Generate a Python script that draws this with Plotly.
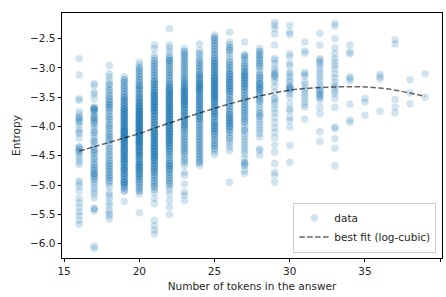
import plotly.graph_objects as go

# ---- data: (entropy value, number of stacked points) per answer length ----
e16 = [(-2.84,1),(-3.12,1),(-3.52,1),(-3.55,1),(-3.75,1),(-3.80,1),(-3.85,2),(-3.88,1),(-3.92,2),(-3.98,1),
       (-4.05,1),(-4.10,1),(-4.12,1),(-4.20,1),(-4.35,2),(-4.38,1),(-4.42,2),(-4.45,1),(-4.50,1),(-4.55,1),
       (-4.60,1),(-4.65,1),(-4.92,1),(-4.97,1),(-5.02,1),(-5.10,1),(-5.23,1),(-5.30,1),(-5.38,1),(-5.46,1),
       (-5.52,1),(-5.60,1),(-5.67,1)]
e17 = [(-3.27,1),(-3.30,1),(-3.42,1),(-3.45,1),(-3.53,1),(-3.67,2),(-3.70,3),(-3.73,2),(-3.77,1),(-3.82,2),
       (-3.86,2),(-3.90,2),(-3.95,2),(-4.00,1),(-4.05,1),(-4.10,2),(-4.15,1),(-4.20,1),(-4.25,2),(-4.30,1),
       (-4.35,1),(-4.40,2),(-4.45,2),(-4.50,1),(-4.55,2),(-4.60,1),(-4.65,2),(-4.70,2),(-4.75,2),(-4.80,3),
       (-4.85,2),(-4.90,2),(-4.95,1),(-5.00,1),(-5.05,1),(-5.10,1),(-5.15,1),(-5.22,1),(-5.40,2),(-5.44,1),
       (-6.04,1),(-6.08,1)]
e18 = [(-2.96,1),(-3.10,1),(-3.15,1),(-3.22,1),(-3.28,2),(-3.33,1),(-3.38,2),(-3.43,1),(-3.48,2),(-3.53,2),
       (-3.58,2),(-3.63,3),(-3.68,2),(-3.73,2),(-3.78,1),(-3.83,2),(-3.88,2),(-3.93,1),(-3.98,2),(-4.03,2),
       (-4.08,1),(-4.13,2),(-4.18,2),(-4.23,2),(-4.28,1),(-4.33,1),(-4.38,2),(-4.43,1),(-4.48,2),(-4.53,1),
       (-4.58,2),(-4.63,2),(-4.68,2),(-4.73,2),(-4.78,2),(-4.83,2),(-4.88,2),(-4.93,2),(-4.98,1),(-5.03,1),
       (-5.12,1),(-5.17,1),(-5.22,1),(-5.30,1),(-5.35,1),(-5.43,1),(-5.48,1),(-5.52,1),(-5.58,1)]
e19 = [(-3.15,1),(-3.20,2),(-3.25,2),(-3.30,2),(-3.35,2),(-3.40,2),(-3.45,2),(-3.50,3),(-3.55,3),(-3.60,3),
       (-3.65,3),(-3.70,4),(-3.75,4),(-3.80,4),(-3.85,4),(-3.90,4),(-3.95,4),(-4.00,4),(-4.05,5),(-4.10,5),
       (-4.15,5),(-4.20,5),(-4.25,4),(-4.30,4),(-4.35,4),(-4.40,4),(-4.45,4),(-4.50,4),(-4.55,4),(-4.60,4),
       (-4.65,3),(-4.70,4),(-4.75,4),(-4.80,3),(-4.85,3),(-4.90,3),(-4.95,4),(-5.00,3),(-5.05,2),(-5.10,2),
       (-5.28,1)]
e20 = [(-2.90,1),(-2.95,1),(-3.00,2),(-3.05,2),(-3.10,2),(-3.15,2),(-3.20,2),(-3.25,2),(-3.30,3),(-3.35,3),
       (-3.40,2),(-3.45,3),(-3.50,3),(-3.55,3),(-3.60,4),(-3.65,4),(-3.70,4),(-3.75,5),(-3.80,5),(-3.85,5),
       (-3.90,5),(-3.95,5),(-4.00,5),(-4.05,5),(-4.10,5),(-4.15,5),(-4.20,5),(-4.25,5),(-4.30,5),(-4.35,4),
       (-4.40,4),(-4.45,4),(-4.50,4),(-4.55,3),(-4.60,3),(-4.65,4),(-4.70,4),(-4.75,4),(-4.80,3),(-4.85,3),
       (-4.90,3),(-4.95,2),(-5.00,2),(-5.05,2),(-5.10,2),(-5.15,1),(-5.47,1)]
e21 = [(-2.61,1),(-2.67,1),(-2.78,1),(-2.83,1),(-2.88,2),(-2.93,2),(-2.98,2),(-3.03,2),(-3.08,2),(-3.13,2),
       (-3.18,2),(-3.23,3),(-3.28,3),(-3.33,3),(-3.38,3),(-3.43,4),(-3.48,4),(-3.53,4),(-3.58,4),(-3.63,4),
       (-3.68,4),(-3.73,4),(-3.78,3),(-3.83,3),(-3.88,3),(-3.93,3),(-3.98,3),(-4.03,3),(-4.08,4),(-4.13,4),
       (-4.18,4),(-4.23,4),(-4.28,4),(-4.33,4),(-4.38,4),(-4.43,4),(-4.48,4),(-4.53,4),(-4.58,3),(-4.63,3),
       (-4.68,3),(-4.73,3),(-4.78,3),(-4.83,2),(-4.88,2),(-4.93,2),(-4.98,2),(-5.03,2),(-5.08,1),(-5.12,1),
       (-5.23,1),(-5.32,1),(-5.60,1),(-5.69,1),(-5.77,1),(-5.83,1)]
e22 = [(-2.33,1),(-2.61,1),(-2.66,1),(-2.72,1),(-2.78,1),(-2.83,2),(-2.88,3),(-2.93,2),(-2.98,2),(-3.03,2),
       (-3.08,2),(-3.13,2),(-3.18,2),(-3.23,2),(-3.28,3),(-3.33,3),(-3.38,4),(-3.43,4),(-3.48,4),(-3.53,4),
       (-3.58,4),(-3.63,4),(-3.68,4),(-3.73,4),(-3.78,4),(-3.83,4),(-3.88,4),(-3.93,4),(-3.98,4),(-4.03,4),
       (-4.08,4),(-4.13,4),(-4.18,4),(-4.23,4),(-4.28,4),(-4.33,3),(-4.38,3),(-4.43,3),(-4.48,2),(-4.53,2),
       (-4.58,2),(-4.63,3),(-4.68,3),(-4.73,3),(-4.78,2),(-4.83,2),(-4.88,2),(-4.93,2),(-4.98,2),(-5.03,1),
       (-5.08,1),(-5.15,1),(-5.26,1),(-5.37,1),(-5.50,1)]
e23 = [(-2.67,1),(-2.72,2),(-2.77,2),(-2.82,2),(-2.87,2),(-2.92,2),(-2.97,2),(-3.02,2),(-3.07,2),(-3.12,2),
       (-3.17,2),(-3.22,3),(-3.27,3),(-3.32,3),(-3.37,4),(-3.42,4),(-3.47,4),(-3.52,4),(-3.57,4),(-3.62,4),
       (-3.67,3),(-3.72,3),(-3.77,3),(-3.82,3),(-3.87,3),(-3.92,3),(-3.97,3),(-4.02,3),(-4.07,2),(-4.12,2),
       (-4.17,2),(-4.22,2),(-4.27,2),(-4.32,2),(-4.37,2),(-4.42,2),(-4.47,2),(-4.52,1),(-4.57,2),(-4.62,1),
       (-4.66,1),(-4.78,1),(-4.83,1),(-4.98,1),(-5.12,1),(-5.17,1),(-5.26,1)]
e24 = [(-2.59,1),(-2.70,1),(-2.76,2),(-2.82,1),(-2.87,2),(-2.92,2),(-2.97,2),(-3.02,2),(-3.07,2),(-3.12,3),
       (-3.17,3),(-3.22,3),(-3.27,4),(-3.32,4),(-3.37,4),(-3.42,3),(-3.47,3),(-3.52,3),(-3.57,3),(-3.62,3),
       (-3.67,3),(-3.72,3),(-3.77,3),(-3.82,3),(-3.87,3),(-3.92,2),(-3.97,2),(-4.02,2),(-4.07,2),(-4.12,2),
       (-4.17,2),(-4.22,2),(-4.27,2),(-4.32,2),(-4.37,2),(-4.42,2),(-4.47,2),(-4.52,2),(-4.57,2),(-4.62,2),
       (-4.67,1)]
e25 = [(-2.44,1),(-2.48,2),(-2.53,2),(-2.58,2),(-2.63,2),(-2.68,2),(-2.73,2),(-2.78,2),(-2.83,2),(-2.88,3),
       (-2.93,3),(-2.98,3),(-3.03,3),(-3.08,3),(-3.13,3),(-3.18,4),(-3.23,4),(-3.28,4),(-3.33,4),(-3.38,4),
       (-3.43,4),(-3.48,4),(-3.53,4),(-3.58,3),(-3.63,3),(-3.68,3),(-3.73,3),(-3.78,3),(-3.83,3),(-3.88,2),
       (-3.93,3),(-3.98,3),(-4.03,3),(-4.08,3),(-4.13,2),(-4.18,2),(-4.23,2),(-4.28,2),(-4.33,2),(-4.38,2),
       (-4.43,1),(-4.48,1)]
e26 = [(-2.39,1),(-2.56,1),(-2.60,1),(-2.65,2),(-2.70,2),(-2.75,1),(-2.80,1),(-2.85,1),(-2.90,2),(-2.95,2),
       (-3.00,2),(-3.05,2),(-3.10,3),(-3.15,3),(-3.20,3),(-3.25,3),(-3.30,3),(-3.35,3),(-3.40,3),(-3.45,2),
       (-3.50,2),(-3.55,2),(-3.60,2),(-3.65,2),(-3.70,2),(-3.75,2),(-3.80,3),(-3.85,3),(-3.90,3),(-3.95,3),
       (-4.00,3),(-4.05,2),(-4.10,2),(-4.15,1),(-4.20,2),(-4.25,1),(-4.30,1),(-4.35,1),(-4.41,1),(-4.95,1)]
e27 = [(-2.56,1),(-2.78,2),(-2.82,2),(-2.87,1),(-2.92,2),(-2.97,2),(-3.02,2),(-3.07,3),(-3.12,3),(-3.17,3),
       (-3.22,3),(-3.27,3),(-3.32,3),(-3.37,2),(-3.42,2),(-3.47,2),(-3.52,2),(-3.57,2),(-3.62,2),(-3.67,2),
       (-3.72,2),(-3.77,2),(-3.82,2),(-3.87,2),(-3.92,2),(-3.97,1),(-4.02,1),(-4.07,2),(-4.12,1),(-4.17,1),
       (-4.22,1),(-4.27,1),(-4.32,1),(-4.37,1),(-4.42,1),(-4.47,1),(-4.55,1),(-4.62,2),(-4.66,2),(-4.75,1),
       (-4.80,1)]
e28 = [(-2.67,1),(-2.72,2),(-2.77,2),(-2.82,2),(-2.87,2),(-2.92,2),(-2.97,2),(-3.02,1),(-3.07,1),(-3.12,2),
       (-3.17,2),(-3.22,2),(-3.27,3),(-3.32,3),(-3.37,3),(-3.42,2),(-3.47,2),(-3.52,2),(-3.57,2),(-3.62,1),
       (-3.67,1),(-3.72,1),(-3.77,2),(-3.82,2),(-3.87,1),(-3.92,1),(-3.97,1),(-4.02,1),(-4.07,1),(-4.12,1),
       (-4.18,1),(-4.38,1),(-4.41,1),(-4.49,1)]
e29 = [(-2.22,1),(-2.27,1),(-2.33,1),(-2.42,1),(-2.61,1),(-2.84,1),(-2.87,1),(-2.93,1),(-3.00,1),(-3.05,1),
       (-3.10,2),(-3.14,2),(-3.19,1),(-3.24,1),(-3.32,1),(-3.41,1),(-3.52,2),(-3.58,1),(-3.63,1),(-3.70,1),
       (-3.76,1),(-3.84,1),(-3.93,1),(-4.02,1),(-4.10,1),(-4.19,1),(-4.32,1),(-4.44,1),(-4.63,1),(-4.78,1),
       (-4.83,1),(-4.95,1)]
e30 = [(-2.27,1),(-2.39,1),(-2.43,1),(-2.76,1),(-2.81,1),(-2.93,1),(-2.96,1),(-3.07,1),(-3.10,1),(-3.15,1),
       (-3.21,1),(-3.24,1),(-3.30,1),(-3.33,2),(-3.36,2),(-3.39,1),(-3.44,1),(-3.50,1),(-3.61,1),(-3.70,1),
       (-3.73,1),(-3.84,1),(-3.90,1),(-4.01,1),(-4.32,1),(-4.61,1)]
e31 = [(-2.56,1),(-2.71,1),(-2.75,1),(-3.08,1),(-3.11,1),(-3.14,1),(-3.24,1),(-3.28,1),(-3.35,1),(-3.40,1),
       (-3.45,1),(-3.50,1),(-3.57,1),(-3.62,1),(-3.67,1),(-3.87,1)]
e32 = [(-2.41,1),(-2.61,1),(-2.84,1),(-2.87,1),(-2.90,1),(-2.93,1),(-2.98,1),(-3.04,1),(-3.10,1),(-3.15,1),
       (-3.21,1),(-3.27,1),(-3.32,1),(-3.38,2),(-3.41,1),(-3.45,2),(-3.50,2),(-3.55,1),(-3.67,1),(-3.78,1),
       (-4.09,1),(-4.25,1)]
e33 = [(-2.24,1),(-2.29,1),(-2.50,1),(-2.66,1),(-2.76,1),(-2.84,1),(-2.90,1),(-2.96,1),(-3.02,1),(-3.10,1),
       (-3.17,1),(-3.24,1),(-3.30,1),(-3.34,1),(-3.40,1),(-3.44,1),(-3.52,1),(-3.67,1),(-4.01,1),(-4.04,1),
       (-4.21,1),(-4.37,1),(-4.67,1)]
e34 = [(-2.61,1),(-2.73,1),(-2.76,1),(-3.15,1),(-3.18,1),(-3.22,1),(-3.62,1),(-3.89,1),(-3.93,1)]
e35 = [(-3.52,1),(-3.58,1),(-3.81,1)]
e36 = [(-3.11,1),(-3.15,1),(-3.19,1),(-3.74,1)]
e37 = [(-2.52,1),(-2.59,1),(-3.54,1),(-3.67,1),(-3.77,1)]
e38 = [(-3.20,1),(-3.43,1),(-3.61,1)]
e39 = [(-3.10,1),(-3.50,1)]

token_counts = list(range(16, 40))
entropy_columns = [e16, e17, e18, e19, e20, e21, e22, e23, e24, e25, e26, e27,
                   e28, e29, e30, e31, e32, e33, e34, e35, e36, e37, e38, e39]

# best fit (log-cubic) curve
fit_x = list(range(16, 40))
fit_y = [-4.42, -4.345, -4.27, -4.195, -4.12, -4.03, -3.94, -3.855, -3.77, -3.69, -3.615, -3.545,
         -3.48, -3.425, -3.38, -3.35, -3.335, -3.325, -3.32, -3.325, -3.345, -3.38, -3.43, -3.485]

x_tick_vals = [15, 20, 25, 30, 35, 40]
x_tick_text = ["15", "20", "25", "30", "35", "40"]
y_tick_vals = [-6.0, -5.5, -5.0, -4.5, -4.0, -3.5, -3.0, -2.5]
y_tick_text = ["\u22126.0", "\u22125.5", "\u22125.0", "\u22124.5", "\u22124.0", "\u22123.5", "\u22123.0", "\u22122.5"]

xs, ys = [], []
for t, col in zip(token_counts, entropy_columns):
    for v, n in col:
        for _ in range(n):
            xs.append(t)
            ys.append(v)

FONT = "DejaVu Sans"
TXT = "#262626"
fig = go.Figure()
fig.add_trace(go.Scatter(
    x=xs, y=ys, mode="markers", name="data",
    marker=dict(size=7.5, color="#1f77b4", opacity=0.2, line=dict(width=0)),
))
fig.add_trace(go.Scatter(
    x=fit_x, y=fit_y, mode="lines", name="best fit (log-cubic)",
    line=dict(color="rgba(0,0,0,0.6)", width=1.5, dash="5.5px,2.4px", shape="spline"),
))

axis_common = dict(
    showgrid=False, zeroline=False, showline=True, linecolor="#000000", linewidth=0.8,
    mirror=True, ticks="outside", ticklen=3.5, tickwidth=0.8, tickcolor="#000000",
    tickfont=dict(family=FONT, size=10.5, color=TXT), automargin=False,
)
fig.update_xaxes(range=[14.86, 40.12], tickvals=x_tick_vals, ticktext=x_tick_text,
                 title=dict(text="Number of tokens in the answer", font=dict(family=FONT, size=10.5, color=TXT), standoff=6),
                 **axis_common)
fig.update_yaxes(range=[-6.244, -2.063], tickvals=y_tick_vals, ticktext=y_tick_text,
                 title=dict(text="Entropy", font=dict(family=FONT, size=10.5, color=TXT), standoff=7),
                 **axis_common)

fig.update_layout(
    width=446, height=297,
    margin=dict(l=62, r=4, t=13, b=39),
    paper_bgcolor="white", plot_bgcolor="white",
    font=dict(family=FONT, size=10.5, color=TXT),
    legend=dict(x=0.985, y=0.022, xanchor="right", yanchor="bottom",
                bgcolor="rgba(255,255,255,0.8)", bordercolor="#cccccc", borderwidth=1,
                font=dict(family=FONT, size=10.5, color=TXT), itemwidth=30,
                tracegroupgap=0),
    showlegend=True,
)

fig.write_html("out.html", config={"displayModeBar": False},
               post_script="document.body.style.margin='0';document.body.style.overflow='hidden';")
